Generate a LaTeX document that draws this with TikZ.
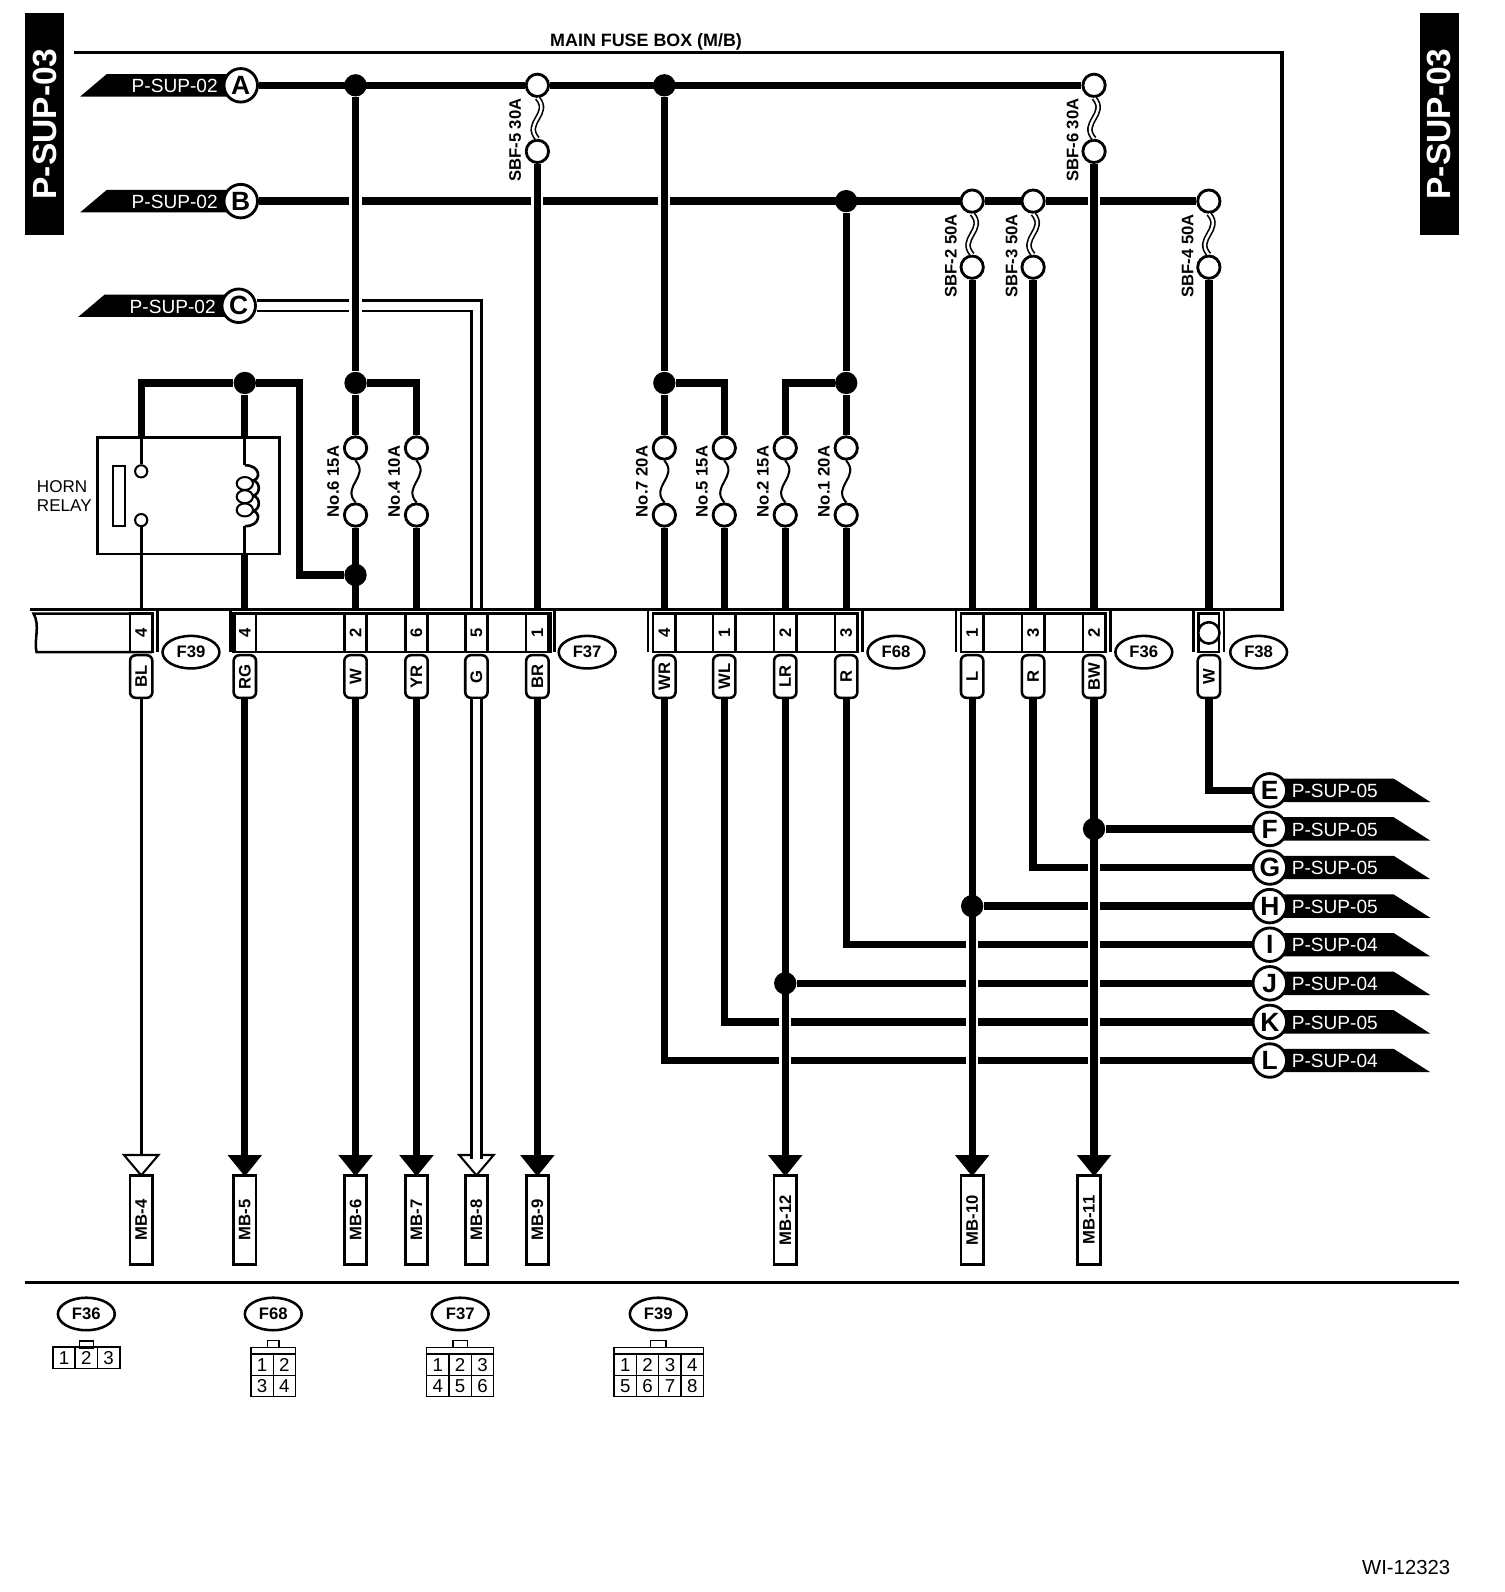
\documentclass[tikz,border=0pt]{standalone}
\usepackage{fontspec}
\setmainfont{Liberation Sans}
\usetikzlibrary{positioning}
\usetikzlibrary{arrows}
\usetikzlibrary{shapes.geometric}

\begin{document}
\begin{tikzpicture}[
            x = 0.5pt,
            y = -0.5pt,
            node distance = 11pt, % one cell of a connector view
            wire/.style = {line width = 3.6pt},
            thinwire/.style = {line width = 1.3pt},
            whitewire/.style = {line width = 1.2pt, double = white, double distance = 3.8pt},
            border/.style = {line width = 1.5pt}
        ]

        \tikzstyle{small}=[font = \fontsize{8.2pt}{10pt}\selectfont\bfseries]
        \tikzstyle{tabtext}=[fill = black, text = white, rotate = 90, inner sep = 0pt, minimum width = 109pt, minimum height = 19pt, font = \fontsize{16.5pt}{18pt}\selectfont\bfseries]
        \tikzstyle{bantext}=[white, inner sep = 0pt, font = \fontsize{9.4pt}{11pt}\selectfont]
        \tikzstyle{letter}=[circle, draw, line width = 1.4pt, fill = white, inner sep = 0pt, minimum size = 16.5pt, font = \fontsize{13pt}{15pt}\selectfont\bfseries]
        \tikzstyle{junction}=[circle, fill = black, inner sep = 0pt, minimum size = 11pt]
        \tikzstyle{fuse}=[circle, draw, line width = 1.4pt, fill = white, inner sep = 0pt, minimum size = 11pt]
        \tikzstyle{thinfuse}=[line width = 1pt, to path = {.. controls +(14,16) and +(-14,-16) .. (\tikztotarget)}]
        \tikzstyle{sbffuse}=[line width = 0.8pt, double = white, double distance = 1.2pt, to path = {.. controls +(14,16) and +(-14,-16) .. (\tikztotarget)}]
        \tikzstyle{fuselabel}=[small, rotate = 90, inner sep = 0pt]
        \tikzstyle{gap}=[fill = white, inner sep = 0pt, minimum width = 6pt, minimum height = 8pt]
        \tikzstyle{band}=[draw, line width = 1.25pt, inner sep = 0pt, minimum height = 19pt]
        \tikzstyle{pincell}=[small, draw, line width = 1.25pt, rotate = 90, inner sep = 0pt, minimum width = 19pt, minimum height = 11pt]
        \tikzstyle{colour}=[small, rectangle, rounded corners = 2.8pt, draw, line width = 1.25pt, fill = white, rotate = 90, inner sep = 0pt, minimum width = 21pt, minimum height = 11pt]
        \tikzstyle{plug}=[small, ellipse, draw, line width = 1.25pt, fill = white, inner sep = 0pt, minimum width = 28pt, minimum height = 16pt]
        \tikzstyle{target}=[small, draw, line width = 1.4pt, fill = white, rotate = 90, inner sep = 0pt, minimum width = 43.5pt, minimum height = 11pt]
        \tikzstyle{solidhead}=[fill = black]
        \tikzstyle{openhead}=[draw = black, fill = white, line width = 1pt]
        \tikzstyle{cell}=[draw, line width = 0.7pt, inner sep = 0pt, minimum width = 11pt, minimum height = 10.5pt, font = \fontsize{9.2pt}{11pt}\selectfont]
        \tikzstyle{key}=[draw, line width = 0.7pt, inner sep = 0pt, minimum height = 3.5pt]

        \useasboundingbox (0,0) rectangle (1480.6,1567.2);

        % side tabs and title
        \node[tabtext] (TabL) at (44,122) {P-SUP-03};
        \node[tabtext] (TabR) at (1417,122) {P-SUP-03};
        \node[font = \fontsize{8.8pt}{10pt}\selectfont\bfseries, inner sep = 0pt] (Title) at (636,41) {MAIN FUSE BOX (M/B)};

        % fuse box outline
        \draw[border] (73,52) -- (1262,52) -- (1262,600) -- (30,600);

        % incoming sheets
        \fill (79,95) -- ++(26,-22) -- ++(130,0) -- ++(0,22) -- cycle;
        \fill (79,209) -- ++(26,-22) -- ++(130,0) -- ++(0,22) -- cycle;
        \fill (77,312) -- ++(26,-22) -- ++(130,0) -- ++(0,22) -- cycle;
        \node[bantext] (TxtA) at (172,85) {P-SUP-02};
        \node[bantext] (TxtB) at (172,199) {P-SUP-02};
        \node[bantext] (TxtC) at (170,302) {P-SUP-02};
        \node[letter] (A) at (237,84) {A};
        \node[letter] (B) at (237,198) {B};
        \node[letter] (C) at (235,301) {C};

        % outgoing sheets
        \fill (1250,766.5) -- ++(122,0) -- ++(36,23) -- ++(-158,0) -- cycle;
        \fill (1250,804.5) -- ++(122,0) -- ++(36,23) -- ++(-158,0) -- cycle;
        \fill (1250,842.5) -- ++(122,0) -- ++(36,23) -- ++(-158,0) -- cycle;
        \fill (1250,880.5) -- ++(122,0) -- ++(36,23) -- ++(-158,0) -- cycle;
        \fill (1250,918.5) -- ++(122,0) -- ++(36,23) -- ++(-158,0) -- cycle;
        \fill (1250,956.5) -- ++(122,0) -- ++(36,23) -- ++(-158,0) -- cycle;
        \fill (1250,994.5) -- ++(122,0) -- ++(36,23) -- ++(-158,0) -- cycle;
        \fill (1250,1032.5) -- ++(122,0) -- ++(36,23) -- ++(-158,0) -- cycle;
        \node[bantext] (TxtE) at (1314,778.5) {P-SUP-05};
        \node[bantext] (TxtF) at (1314,816.5) {P-SUP-05};
        \node[bantext] (TxtG) at (1314,854.5) {P-SUP-05};
        \node[bantext] (TxtH) at (1314,892.5) {P-SUP-05};
        \node[bantext] (TxtI) at (1314,930.5) {P-SUP-04};
        \node[bantext] (TxtJ) at (1314,968.5) {P-SUP-04};
        \node[bantext] (TxtK) at (1314,1006.5) {P-SUP-05};
        \node[bantext] (TxtL) at (1314,1044.5) {P-SUP-04};
        \node[letter] (E) at (1250,778) {E};
        \node[letter] (F) at (1250,816) {F};
        \node[letter] (G) at (1250,854) {G};
        \node[letter] (H) at (1250,892) {H};
        \node[letter] (I) at (1250,930) {I};
        \node[letter] (J) at (1250,968) {J};
        \node[letter] (K) at (1250,1006) {K};
        \node[letter] (L) at (1250,1044) {L};

        % junctions
        \node[junction] (J350a) at (350,84) {};
        \node[junction] (J654a) at (654,84) {};
        \node[junction] (J833a) at (833,198) {};
        \node[junction] (J241) at (241,377) {};
        \node[junction] (J350b) at (350,377) {};
        \node[junction] (J654b) at (654,377) {};
        \node[junction] (J833b) at (833,377) {};
        \node[junction] (J350c) at (350,566) {};
        \node[junction] (J1077) at (1077,816) {};
        \node[junction] (J957) at (957,892) {};
        \node[junction] (J773) at (773,968) {};

        % fuses
        \node[fuse] (SBF5a) at (529,84) {};
        \node[fuse] (SBF5b) at (529,149) {};
        \node[fuse] (SBF6a) at (1077,84) {};
        \node[fuse] (SBF6b) at (1077,149) {};
        \node[fuse] (SBF2a) at (957,198) {};
        \node[fuse] (SBF2b) at (957,263) {};
        \node[fuse] (SBF3a) at (1017,198) {};
        \node[fuse] (SBF3b) at (1017,263) {};
        \node[fuse] (SBF4a) at (1190,198) {};
        \node[fuse] (SBF4b) at (1190,263) {};
        \node[fuse] (No6a) at (350,441) {};
        \node[fuse] (No6b) at (350,507) {};
        \node[fuse] (No4a) at (410,441) {};
        \node[fuse] (No4b) at (410,507) {};
        \node[fuse] (No7a) at (654,441) {};
        \node[fuse] (No7b) at (654,507) {};
        \node[fuse] (No5a) at (713,441) {};
        \node[fuse] (No5b) at (713,507) {};
        \node[fuse] (No2a) at (773,441) {};
        \node[fuse] (No2b) at (773,507) {};
        \node[fuse] (No1a) at (833,441) {};
        \node[fuse] (No1b) at (833,507) {};

        \draw[sbffuse] (SBF5a.south) to (SBF5b.north);
        \draw[sbffuse] (SBF6a.south) to (SBF6b.north);
        \draw[sbffuse] (SBF2a.south) to (SBF2b.north);
        \draw[sbffuse] (SBF3a.south) to (SBF3b.north);
        \draw[sbffuse] (SBF4a.south) to (SBF4b.north);
        \draw[thinfuse] (No6a.south) to (No6b.north);
        \draw[thinfuse] (No4a.south) to (No4b.north);
        \draw[thinfuse] (No7a.south) to (No7b.north);
        \draw[thinfuse] (No5a.south) to (No5b.north);
        \draw[thinfuse] (No2a.south) to (No2b.north);
        \draw[thinfuse] (No1a.south) to (No1b.north);

        \node[fuselabel] (LSBF5) at (507,138) {SBF-5 30A};
        \node[fuselabel] (LSBF6) at (1056,138) {SBF-6 30A};
        \node[fuselabel] (LSBF2) at (936,252) {SBF-2 50A};
        \node[fuselabel] (LSBF3) at (996,252) {SBF-3 50A};
        \node[fuselabel] (LSBF4) at (1169,252) {SBF-4 50A};
        \node[fuselabel] (LNo6) at (328,474) {No.6 15A};
        \node[fuselabel] (LNo4) at (388,474) {No.4 10A};
        \node[fuselabel] (LNo7) at (632,474) {No.7 20A};
        \node[fuselabel] (LNo5) at (691,474) {No.5 15A};
        \node[fuselabel] (LNo2) at (751,474) {No.2 15A};
        \node[fuselabel] (LNo1) at (811,474) {No.1 20A};

        % horn relay
        \node[draw, line width = 1.25pt, inner sep = 0pt, minimum width = 89.5pt, minimum height = 57.5pt] (Relay) at (185.5,488) {};
        \node[font = \fontsize{8.4pt}{9.6pt}\selectfont, align = left, inner sep = 0pt, anchor = west] (RelayTxt) at (36,488.5) {HORN\\RELAY};
        \node[draw, line width = 1pt, inner sep = 0pt, minimum width = 6pt, minimum height = 29.5pt] (Bar) at (117,488.5) {};
        \node[circle, draw, line width = 1pt, inner sep = 0pt, minimum size = 6pt] (Con1) at (139,464) {};
        \node[circle, draw, line width = 1pt, inner sep = 0pt, minimum size = 6pt] (Con2) at (139,512) {};
        \coordinate (RelayA) at (139,431);
        \coordinate (RelayC) at (241,431);
        \coordinate (RelayD) at (241,546);
        \coordinate (CoilT) at (241,458);
        \coordinate (CoilB) at (241,518);
        \draw[thinwire] (CoilT) .. controls (257,458) and (257,473) .. (248,473) .. controls (257,473) and (257,488) .. (248,488) .. controls (257,488) and (257,503) .. (248,503) .. controls (257,503) and (257,518) .. (CoilB);
        \node[ellipse, draw, line width = 1pt, fill = white, inner sep = 0pt, minimum width = 8pt, minimum height = 6.4pt] (Loop1) at (241,476) {};
        \node[ellipse, draw, line width = 1pt, fill = white, inner sep = 0pt, minimum width = 8pt, minimum height = 6.4pt] (Loop2) at (241,489) {};
        \node[ellipse, draw, line width = 1pt, fill = white, inner sep = 0pt, minimum width = 8pt, minimum height = 6.4pt] (Loop3) at (241,502) {};

        % connector bands under the box
        \coordinate (f139) at (139,600);
        \coordinate (f241) at (241,600);
        \coordinate (f350) at (350,600);
        \coordinate (f410) at (410,600);
        \coordinate (f469) at (469,599);
        \coordinate (f529) at (529,600);
        \coordinate (f654) at (654,600);
        \coordinate (f713) at (713,600);
        \coordinate (f773) at (773,600);
        \coordinate (f833) at (833,600);
        \coordinate (f957) at (957,600);
        \coordinate (f1017) at (1017,600);
        \coordinate (f1077) at (1077,600);
        \coordinate (f1190) at (1190,600);

        \draw[line width = 1.25pt] (150,604) -- (33,604) .. controls (40,616) and (33,630) .. (36,642) -- (150,642);
        \node[band, minimum width = 155.5pt] (BandF37) at (386.5,623) {};
        \node[band, minimum width = 100.5pt] (BandF68) at (743.5,623) {};
        \node[band, minimum width = 71pt] (BandF36) at (1017,623) {};
        \node[band, minimum width = 10pt] (BandF38) at (1190,623) {};

        \draw[line width = 1.25pt] (155,600) -- (155,642);
        \draw[line width = 1.25pt] (227,600) -- (227,642);
        \draw[line width = 1.25pt] (546,600) -- (546,642);
        \draw[line width = 1.25pt] (638,600) -- (638,642);
        \draw[line width = 1.25pt] (849,600) -- (849,642);
        \draw[line width = 1.25pt] (941,600) -- (941,642);
        \draw[line width = 1.25pt] (1093,600) -- (1093,642);
        \draw[line width = 1.25pt] (1175,600) -- (1175,642);
        \draw[line width = 1.25pt] (1205,600) -- (1205,642);

        \node[pincell] (P139) at (139,623) {4};
        \node[pincell] (P241) at (241,623) {4};
        \node[pincell] (P350) at (350,623) {2};
        \node[pincell] (P410) at (410,623) {6};
        \node[pincell] (P469) at (469,623) {5};
        \node[pincell] (P529) at (529,623) {1};
        \node[pincell] (P654) at (654,623) {4};
        \node[pincell] (P713) at (713,623) {1};
        \node[pincell] (P773) at (773,623) {2};
        \node[pincell] (P833) at (833,623) {3};
        \node[pincell] (P957) at (957,623) {1};
        \node[pincell] (P1017) at (1017,623) {3};
        \node[pincell] (P1077) at (1077,623) {2};
        \node[circle, draw, line width = 1.25pt, fill = white, inner sep = 0pt, minimum size = 10.5pt] (P1190) at (1190,623) {};

        % wire colours
        \node[colour] (CBL) at (139,666) {BL};
        \node[colour] (CRG) at (241,666) {RG};
        \node[colour] (CW) at (350,666) {W};
        \node[colour] (CYR) at (410,666) {YR};
        \node[colour] (CG) at (469,666) {G};
        \node[colour] (CBR) at (529,666) {BR};
        \node[colour] (CWR) at (654,666) {WR};
        \node[colour] (CWL) at (713,666) {WL};
        \node[colour] (CLR) at (773,666) {LR};
        \node[colour] (CRa) at (833,666) {R};
        \node[colour] (CL) at (957,666) {L};
        \node[colour] (CRb) at (1017,666) {R};
        \node[colour] (CBW) at (1077,666) {BW};
        \node[colour] (CWb) at (1190,666) {W};

        % connector names
        \node[plug] (NF39) at (188,642) {F39};
        \node[plug] (NF37) at (578,642) {F37};
        \node[plug] (NF68) at (882,642) {F68};
        \node[plug] (NF36) at (1126,642) {F36};
        \node[plug] (NF38) at (1239,642) {F38};

        % other sheets
        \node[target] (MB4) at (139,1201) {MB-4};
        \node[target] (MB5) at (241,1201) {MB-5};
        \node[target] (MB6) at (350,1201) {MB-6};
        \node[target] (MB7) at (410,1201) {MB-7};
        \node[target] (MB8) at (469,1201) {MB-8};
        \node[target] (MB9) at (529,1201) {MB-9};
        \node[target] (MB12) at (773,1201) {MB-12};
        \node[target] (MB10) at (957,1201) {MB-10};
        \node[target] (MB11) at (1072,1201) {MB-11};

        \draw[openhead] (122,1137) -- (156,1137) -- (139,1157) -- cycle;
        \fill[solidhead] (224,1137) -- (258,1137) -- (241,1158) -- cycle;
        \fill[solidhead] (333,1137) -- (367,1137) -- (350,1158) -- cycle;
        \fill[solidhead] (393,1137) -- (427,1137) -- (410,1158) -- cycle;
        \draw[openhead] (452,1137) -- (486,1137) -- (469,1157) -- cycle;
        \fill[solidhead] (512,1137) -- (546,1137) -- (529,1158) -- cycle;
        \fill[solidhead] (756,1137) -- (790,1137) -- (773,1158) -- cycle;
        \fill[solidhead] (940,1137) -- (974,1137) -- (957,1158) -- cycle;
        \fill[solidhead] (1060,1137) -- (1094,1137) -- (1077,1158) -- cycle;
        \coordinate (H4) at (139,1137);
        \coordinate (H5) at (241,1138);
        \coordinate (H6) at (350,1138);
        \coordinate (H7) at (410,1138);
        \coordinate (H8) at (469,1141);
        \coordinate (H9) at (529,1138);
        \coordinate (H12) at (773,1138);
        \coordinate (H10) at (957,1138);
        \coordinate (H11) at (1077,1138);

        % horizontal runs first
        \path[wire] (A) edge (SBF5a);
        \path[wire] (SBF5a) edge (SBF6a);
        \path[wire] (B) edge (SBF2a);
        \path[wire] (SBF2a) edge (SBF3a);
        \path[wire] (SBF3a) edge (SBF4a);
        \draw[whitewire] (C) -| (f469);
        \draw[wire] (CWb) |- (E);
        \path[wire] (J1077) edge (F);
        \draw[wire] (CRb) |- (G);
        \path[wire] (J957) edge (H);
        \draw[wire] (CRa) |- (I);
        \path[wire] (J773) edge (J);
        \draw[wire] (CWL) |- (K);
        \draw[wire] (CWR) |- (L);

        % breaks where a run passes behind a wire
        \node[gap] (GapB1) at (350,198) {};
        \node[gap] (GapB2) at (529,198) {};
        \node[gap] (GapB3) at (654,198) {};
        \node[gap] (GapB4) at (1077,198) {};
        \node[gap] (GapC1) at (350,301) {};
        \node[gap] (GapG1) at (1077,854) {};
        \node[gap] (GapH1) at (1077,892) {};
        \node[gap] (GapI1) at (957,930) {};
        \node[gap] (GapI2) at (1077,930) {};
        \node[gap] (GapJ1) at (957,968) {};
        \node[gap] (GapJ2) at (1077,968) {};
        \node[gap] (GapK1) at (773,1006) {};
        \node[gap] (GapK2) at (957,1006) {};
        \node[gap] (GapK3) at (1077,1006) {};
        \node[gap] (GapL1) at (773,1044) {};
        \node[gap] (GapL2) at (957,1044) {};
        \node[gap] (GapL3) at (1077,1044) {};

        % feeds inside the box
        \path[wire] (J350a) edge (J350b);
        \path[wire] (J350b) edge (No6a);
        \draw[wire] (J350b) -| (No4a);
        \path[wire] (No6b) edge (f350);
        \path[wire] (No4b) edge (f410);
        \path[wire] (SBF5b) edge (f529);
        \path[wire] (J654a) edge (J654b);
        \path[wire] (J654b) edge (No7a);
        \draw[wire] (J654b) -| (No5a);
        \path[wire] (No7b) edge (f654);
        \path[wire] (No5b) edge (f713);
        \path[wire] (J833a) edge (J833b);
        \path[wire] (J833b) edge (No1a);
        \draw[wire] (J833b) -| (No2a);
        \path[wire] (No2b) edge (f773);
        \path[wire] (No1b) edge (f833);
        \path[wire] (SBF2b) edge (f957);
        \path[wire] (SBF3b) edge (f1017);
        \path[wire] (SBF6b) edge (f1077);
        \path[wire] (SBF4b) edge (f1190);

        % relay feed
        \coordinate (TurnA) at (295,377);
        \coordinate (TurnB) at (295,566);
        \draw[wire] (RelayA) |- (J241) -- (TurnA) -- (TurnB) -- (J350c);
        \path[wire] (J241) edge (RelayC);
        \path[wire] (RelayD) edge (f241);
        \path[thinwire] (RelayA) edge (Con1);
        \path[thinwire] (Con2) edge (f139);
        \path[thinwire] (RelayC) edge (CoilT);
        \path[thinwire] (CoilB) edge (RelayD);

        % down to the other sheets
        \path[thinwire] (CBL) edge (H4);
        \path[wire] (CRG) edge (H5);
        \path[wire] (CW) edge (H6);
        \path[wire] (CYR) edge (H7);
        \draw[whitewire] (CG) -- (H8);
        \path[wire] (CBR) edge (H9);
        \path[wire] (CLR) edge (H12);
        \path[wire] (CL) edge (H10);
        \path[wire] (CBW) edge (H11);

        % lower part: connector views
        \draw[border] (25,1262.5) -- (1436,1262.5);

        \node[plug] (VF36) at (85,1293.5) {F36};
        \node[plug] (VF68) at (269,1293.5) {F68};
        \node[plug] (VF37) at (453,1293.5) {F37};
        \node[plug] (VF39) at (648,1293.5) {F39};

        % F36
        \node[key, minimum width = 7pt] (KeyF36) at (85,1323.5) {};
        \node[cell] (F36a) at (63,1336.5) {1};
        \node[cell] (F36b) [right of = F36a] {2};
        \node[cell] (F36c) [right of = F36b] {3};

        % F68
        \node[key, minimum width = 5.5pt] (KeyF68) at (269,1323) {};
        \node[key, minimum width = 22pt] (TopF68) at (269,1330) {};
        \node[cell] (F68a) at (258,1343.5) {1};
        \node[cell] (F68b) [right of = F68a] {2};
        \node[cell] (F68c) [below of = F68a, node distance = 10.5pt] {3};
        \node[cell] (F68d) [right of = F68c] {4};

        % F37
        \node[key, minimum width = 7pt] (KeyF37) at (453,1323) {};
        \node[key, minimum width = 33pt] (TopF37) at (453,1330) {};
        \node[cell] (F37a) at (431,1343.5) {1};
        \node[cell] (F37b) [right of = F37a] {2};
        \node[cell] (F37c) [right of = F37b] {3};
        \node[cell] (F37d) [below of = F37a, node distance = 10.5pt] {4};
        \node[cell] (F37e) [right of = F37d] {5};
        \node[cell] (F37f) [right of = F37e] {6};

        % F39
        \node[key, minimum width = 7.5pt] (KeyF39) at (648,1323) {};
        \node[key, minimum width = 44pt] (TopF39) at (648.5,1330) {};
        \node[cell] (F39a) at (615.5,1343.5) {1};
        \node[cell] (F39b) [right of = F39a] {2};
        \node[cell] (F39c) [right of = F39b] {3};
        \node[cell] (F39d) [right of = F39c] {4};
        \node[cell] (F39e) [below of = F39a, node distance = 10.5pt] {5};
        \node[cell] (F39f) [right of = F39e] {6};
        \node[cell] (F39g) [right of = F39f] {7};
        \node[cell] (F39h) [right of = F39g] {8};

        \node[font = \fontsize{10pt}{12pt}\selectfont, inner sep = 0pt, anchor = east] (Code) at (1428,1543) {WI-12323};

\end{tikzpicture}
\end{document}
